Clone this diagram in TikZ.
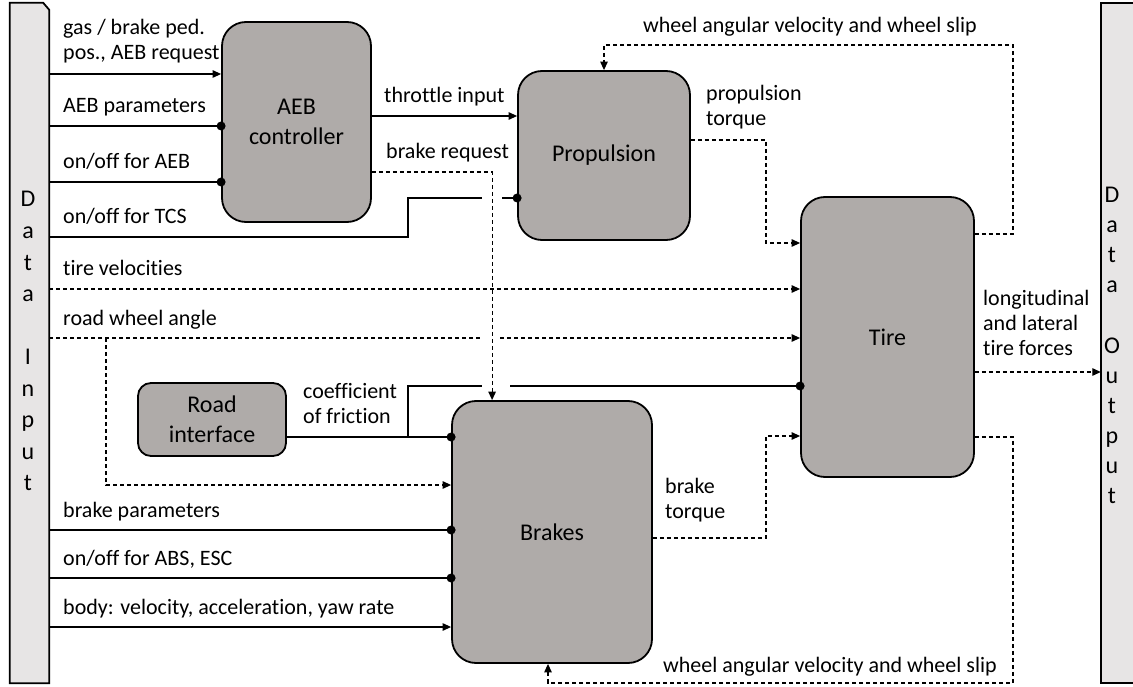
\documentclass[tikz,border=0pt]{standalone}
\usepackage{fontspec}
\setmainfont{Carlito}[Ligatures=NoCommon]
\usetikzlibrary{arrows.meta}

\definecolor{blockgrey}{RGB}{175,171,169}
\definecolor{barfill}{RGB}{231,229,229}

\begin{document}
\begin{tikzpicture}[
    x=1pt, y=-1pt,
    >={Triangle[length=8.5pt,width=7.5pt]},
    block/.style = {
      draw,
      line width = 1.8pt,
      fill = blockgrey,
      rounded corners = 24pt,
      inner sep = 0pt,
      align = center,
      font = \fontsize{24}{30}\selectfont
    },
    sig/.style = {line width = 1.2pt},
    sigd/.style = {sig, dash pattern = on 4pt off 3pt},
    lbl/.style = {
      anchor = base west,
      inner sep = 0pt,
      align = left,
      font = \fontsize{22}{25}\selectfont
    },
    dot/.style = {
      circle,
      fill = black,
      inner sep = 0pt,
      minimum size = 9pt
    },
    iobar/.style = {minimum width = 39pt, minimum height = 680pt, inner sep = 0pt},
    barline/.style = {line width = 1.8pt, fill = barfill},
    barletter/.style = {anchor = base, inner sep = 0pt, font = \fontsize{24}{30}\selectfont}
  ]
  \useasboundingbox (0,0) rectangle (1133,687);

  % data input / output bars
  \node[iobar] (datain) at (29.5,343) {};
  \filldraw[barline] (datain.south west) -- (datain.north west) -- ([xshift=-6pt]datain.north east)
    -- ([yshift=-7pt]datain.north east) -- (datain.south east) -- cycle;
  \foreach \ch [count=\i] in {D,a,t,a,{},I,n,p,u,t}
    \node[barletter] (inl\i) at (28,{207+31.5*(\i-1)}) {\ch};

  \node[iobar] (dataout) at (1120.5,343) {};
  \filldraw[barline] (dataout.south west) rectangle (dataout.north east);
  \foreach \ch [count=\i] in {D,a,t,a,{},O,u,t,p,u,t}
    \node[barletter] (outl\i) at (1112,{203+30*(\i-1)}) {\ch};

  % blocks
  \node[block, minimum width=149pt, minimum height=200pt] (aeb) at (296.5,122) {AEB\\controller};
  \node[block, minimum width=172pt, minimum height=169pt] (prop) at (604,155.5) {Propulsion};
  \node[block, minimum width=173pt, minimum height=280pt] (tire) at (887.5,337) {Tire};
  \node[block, minimum width=200pt, minimum height=262pt] (brakes) at (552,532) {Brakes};
  \node[block, rounded corners=13pt, minimum width=148pt, minimum height=73pt] (road) at (212,419.5) {Road\\interface};

  % inputs to AEB controller
  \draw[sig,->] (datain.east |- 0,74) -- (aeb.west |- 0,74);
  \draw[sig] (datain.east |- 0,126) -- (aeb.west |- 0,126) node[dot] (d1) {};
  \draw[sig] (datain.east |- 0,182) -- (aeb.west |- 0,182) node[dot] (d2) {};
  \draw[sig] (datain.east |- 0,237) -| (408,198) -- (482,198);
  \draw[sig] (502,198) -- (prop.west |- 0,198) node[dot] (d3) {};

  % dashed inputs to tire
  \draw[sigd,->] (datain.east |- 0,289) -- (tire.west |- 0,289);
  \draw[sigd] (datain.east |- 0,338) -- (482,338);
  \draw[sigd,->] (500,338) -- (tire.west |- 0,338);
  \draw[sigd,->] (106,338) |- (brakes.west |- 0,485);

  % road interface
  \draw[sig] (road.east |- 0,437) -- (brakes.west |- 0,437) node[dot] (d4) {};
  \draw[sig] (408,437) |- (482,386);
  \draw[sig] (510,386) -- (tire.west |- 0,386) node[dot] (d5) {};

  % inputs to brakes
  \draw[sig] (datain.east |- 0,530) -- (brakes.west |- 0,530) node[dot] (d6) {};
  \draw[sig] (datain.east |- 0,578) -- (brakes.west |- 0,578) node[dot] (d7) {};
  \draw[sig,->] (datain.east |- 0,627) -- (brakes.west |- 0,627);

  % AEB outputs
  \draw[sig,->] (aeb.east |- 0,116) -- (prop.west |- 0,116);
  \draw[sigd,->] (aeb.east |- 0,172) -| ([xshift=41pt]brakes.north west);

  % torques, feedback and output
  \draw[sigd,->] (prop.east |- 0,140) -| (766,243) -- (tire.west |- 0,243);
  \draw[sigd,->] (brakes.east |- 0,538) -| (766,436) -- (tire.west |- 0,436);
  \draw[sigd,->] (tire.east |- 0,234) -| (1013,45) -| (prop.north);
  \draw[sigd,->] (tire.east |- 0,437) -| (1013,683) -| ([xshift=-4pt]brakes.south);
  \draw[sigd,->] (tire.east |- 0,372) -- (dataout.west |- 0,372);

  % labels (base = last line)
  \node[lbl] (lgas) at (63,60) {gas / brake ped.\\pos., AEB request};
  \node[lbl] (laebpar) at (63,113) {AEB parameters};
  \node[lbl] (laebon) at (63,169) {on/off for AEB};
  \node[lbl] (ltcs) at (63,224) {on/off for TCS};
  \node[lbl] (ltirevel) at (63,276) {tire velocities};
  \node[lbl] (lrwa) at (63,325) {road wheel angle};
  \node[lbl] (lbrpar) at (63,517) {brake parameters};
  \node[lbl] (labs) at (63,565) {on/off for ABS, ESC};
  \node[lbl] (lbody) at (63,614) {body: velocity, acceleration, yaw rate};
  \node[lbl] (lthrottle) at (384,103) {throttle input};
  \node[lbl] (lbreq) at (386,159) {brake request};
  \node[lbl] (lproptq) at (706,126) {propulsion\\torque};
  \node[lbl] (lmu) at (303,423) {coefficient\\of friction};
  \node[lbl] (lbrtq) at (665,518) {brake\\torque};
  \node[lbl] (lforces) at (983,355) {longitudinal\\and lateral\\tire forces};
  \node[lbl] (lslipa) at (643,33) {wheel angular velocity and wheel slip};
  \node[lbl] (lslipb) at (663,672) {wheel angular velocity and wheel slip};
\end{tikzpicture}
\end{document}
